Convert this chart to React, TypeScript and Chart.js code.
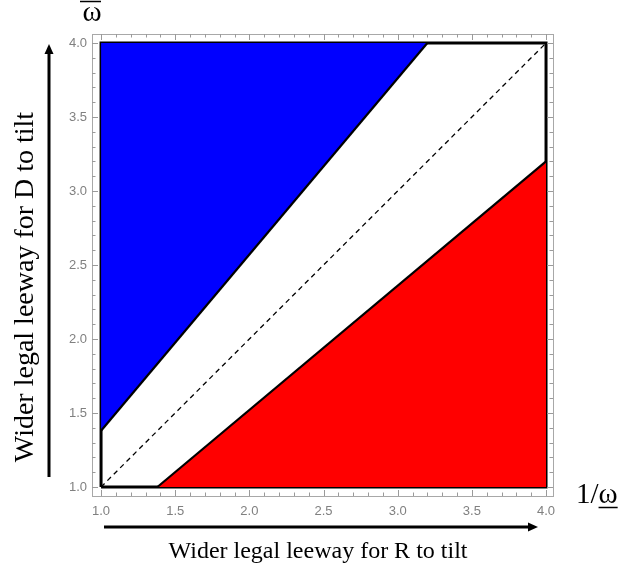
import React, { useEffect, useRef } from 'react';
import { Chart, registerables } from 'chart.js';

Chart.register(...registerables);

// ---- data ----
const blueEdgeX = [1.0, 3.2];
const blueEdgeY = [1.38, 4.0];
const redEdgeX = [1.38, 4.0];
const redEdgeY = [1.0, 3.2];
const squareX = [1.0, 4.0, 4.0, 1.0, 1.0];
const squareY = [1.0, 1.0, 4.0, 4.0, 1.0];
const diagX = [1.0, 4.0];
const diagY = [1.0, 4.0];
const tickValues = [1.0, 1.5, 2.0, 2.5, 3.0, 3.5, 4.0];
const xTitle = 'Wider legal leeway for R to tilt';
const yTitle = 'Wider legal leeway for D to tilt';
const topLabel = 'ω';
const rightLabelPrefix = '1/';
const rightLabelSymbol = 'ω';

const pts = (xs: number[], ys: number[]) => xs.map((x, i) => ({ x, y: ys[i] }));

const overlay = {
  id: 'overlay',
  afterDatasetsDraw(chart: any) {
    const { ctx, chartArea: a, scales } = chart;
    const xs = scales.x;
    const ys = scales.y;
    ctx.save();
    ctx.strokeStyle = '#9a9a9a';
    ctx.lineWidth = 1;
    for (let i = 0; i <= 30; i++) {
      const v = 1 + i * 0.1;
      const len = i % 5 === 0 ? 6 : 3.5;
      const px = Math.round(xs.getPixelForValue(v)) + 0.5;
      const py = Math.round(ys.getPixelForValue(v)) + 0.5;
      ctx.beginPath();
      ctx.moveTo(px, a.bottom);
      ctx.lineTo(px, a.bottom - len);
      ctx.moveTo(px, a.top);
      ctx.lineTo(px, a.top + len);
      ctx.moveTo(a.left, py);
      ctx.lineTo(a.left + len, py);
      ctx.moveTo(a.right, py);
      ctx.lineTo(a.right - len, py);
      ctx.stroke();
    }
    ctx.restore();
  },
  afterDraw(chart: any) {
    const { ctx } = chart;
    ctx.save();
    ctx.fillStyle = '#000';
    ctx.strokeStyle = '#000';
    // vertical arrow
    ctx.lineWidth = 3;
    ctx.beginPath();
    ctx.moveTo(49, 477);
    ctx.lineTo(49, 52);
    ctx.stroke();
    ctx.beginPath();
    ctx.moveTo(49, 44);
    ctx.lineTo(44.5, 54);
    ctx.lineTo(53.5, 54);
    ctx.closePath();
    ctx.fill();
    // horizontal arrow
    ctx.beginPath();
    ctx.moveTo(104, 527);
    ctx.lineTo(530, 527);
    ctx.stroke();
    ctx.beginPath();
    ctx.moveTo(538, 527);
    ctx.lineTo(528, 522.5);
    ctx.lineTo(528, 531.5);
    ctx.closePath();
    ctx.fill();
    // titles
    ctx.textBaseline = 'alphabetic';
    ctx.textAlign = 'center';
    ctx.font = '24px "Liberation Serif"';
    ctx.fillText(xTitle, 318, 558);
    ctx.save();
    ctx.translate(33, 287);
    ctx.rotate(-Math.PI / 2);
    ctx.font = '28px "Liberation Serif"';
    ctx.fillText(yTitle, 0, 0);
    ctx.restore();
    // top omega with overbar
    ctx.font = '29px "Liberation Serif"';
    ctx.fillText(topLabel, 92, 21);
    ctx.lineWidth = 1.5;
    ctx.beginPath();
    ctx.moveTo(80, 1.5);
    ctx.lineTo(101, 1.5);
    ctx.stroke();
    // right 1/omega underlined
    ctx.textAlign = 'left';
    ctx.font = '29px "Liberation Serif"';
    const w1 = ctx.measureText(rightLabelPrefix).width;
    const w2 = ctx.measureText(rightLabelSymbol).width;
    ctx.fillText(rightLabelPrefix, 576, 503);
    ctx.fillText(rightLabelSymbol, 576 + w1, 503);
    ctx.beginPath();
    ctx.moveTo(576 + w1, 507.5);
    ctx.lineTo(576 + w1 + w2, 507.5);
    ctx.stroke();
    ctx.restore();
  },
};

export default function App() {
  const ref = useRef<HTMLCanvasElement | null>(null);
  useEffect(() => {
    if (!ref.current) return;
    const tickFont = { family: '"Liberation Sans", Arial, sans-serif', size: 13 };
    const chart = new Chart(ref.current, {
      type: 'line',
      data: {
        datasets: [
          {
            data: pts(blueEdgeX, blueEdgeY),
            backgroundColor: '#0000ff',
            borderColor: '#000',
            borderWidth: 2.2,
            pointRadius: 0,
            fill: { value: 4 },
          } as any,
          {
            data: pts(redEdgeX, redEdgeY),
            backgroundColor: '#ff0000',
            borderColor: '#000',
            borderWidth: 2.2,
            pointRadius: 0,
            fill: { value: 1 },
          } as any,
          {
            data: pts(diagX, diagY),
            borderColor: '#000',
            borderWidth: 1.3,
            borderDash: [5, 4],
            pointRadius: 0,
            fill: false,
          },
          {
            data: pts(squareX, squareY),
            borderColor: '#000',
            borderWidth: 3,
            pointRadius: 0,
            fill: false,
            borderJoinStyle: 'miter',
          },
        ],
      },
      options: {
        animation: false,
        responsive: true,
        maintainAspectRatio: false,
        layout: { padding: 0 },
        plugins: { legend: { display: false }, tooltip: { enabled: false } },
        elements: { line: { tension: 0 } },
        scales: {
          x: {
            type: 'linear',
            position: 'bottom',
            min: 0.939,
            max: 4.047,
            grid: { display: false, drawTicks: false },
            border: { display: true, color: '#a8a8a8', width: 1 },
            afterBuildTicks: (s: any) => {
              s.ticks = tickValues.map((v) => ({ value: v }));
            },
            afterFit: (s: any) => {
              s.height = 73;
            },
            ticks: {
              color: '#808080',
              font: tickFont,
              padding: 8,
              maxRotation: 0,
              autoSkip: false,
              callback: (v: any) => Number(v).toFixed(1),
            },
          },
          x2: {
            type: 'linear',
            position: 'top',
            min: 0.939,
            max: 4.047,
            grid: { display: false, drawTicks: false },
            border: { display: true, color: '#a8a8a8', width: 1 },
            ticks: { display: false },
            afterFit: (s: any) => {
              s.height = 34;
            },
          },
          y: {
            type: 'linear',
            position: 'left',
            min: 0.939,
            max: 4.061,
            grid: { display: false, drawTicks: false },
            border: { display: true, color: '#a8a8a8', width: 1 },
            afterBuildTicks: (s: any) => {
              s.ticks = tickValues.map((v) => ({ value: v }));
            },
            afterFit: (s: any) => {
              s.width = 92;
            },
            ticks: {
              color: '#808080',
              font: tickFont,
              padding: 5,
              autoSkip: false,
              callback: (v: any) => Number(v).toFixed(1),
            },
          },
          y2: {
            type: 'linear',
            position: 'right',
            min: 0.939,
            max: 4.061,
            grid: { display: false, drawTicks: false },
            border: { display: true, color: '#a8a8a8', width: 1 },
            ticks: { display: false },
            afterFit: (s: any) => {
              s.width = 68;
            },
          },
        },
      },
      plugins: [overlay],
    });
    return () => chart.destroy();
  }, []);
  return (
    <div style={{ position: 'absolute', left: 0, top: 0, width: 621, height: 569, background: '#fff' }}>
      <canvas ref={ref} />
    </div>
  );
}
